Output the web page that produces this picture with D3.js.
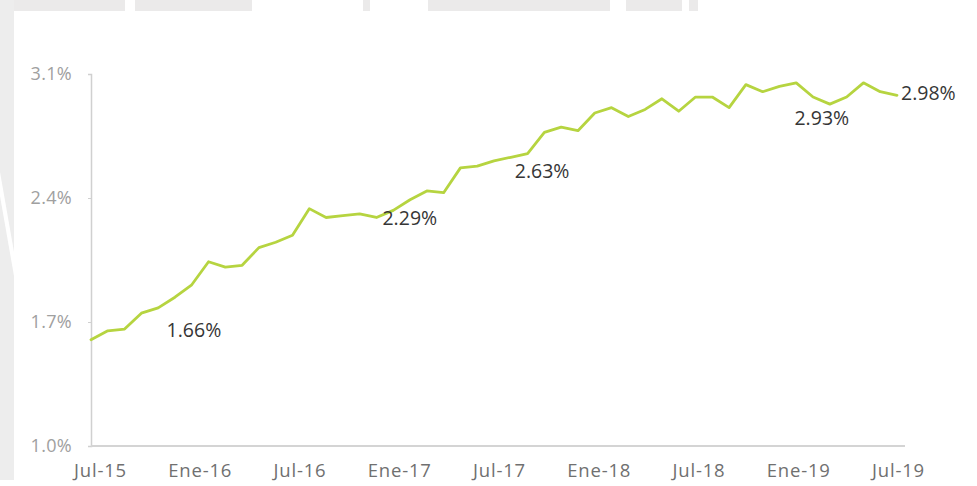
<!DOCTYPE html>
<html>
<head>
<meta charset="utf-8">
<script src="https://cdn.jsdelivr.net/npm/d3@7"></script>
<style>
  html, body { margin: 0; padding: 0; background: #ffffff; }
  svg { display: block; }
</style>
</head>
<body>
<svg id="chart" width="977" height="486"></svg>
<script>
// Monthly series, Jul-15 .. Jul-19 (percent)
const months = [
  "Jul-15","Ago-15","Sep-15","Oct-15","Nov-15","Dic-15",
  "Ene-16","Feb-16","Mar-16","Abr-16","May-16","Jun-16",
  "Jul-16","Ago-16","Sep-16","Oct-16","Nov-16","Dic-16",
  "Ene-17","Feb-17","Mar-17","Abr-17","May-17","Jun-17",
  "Jul-17","Ago-17","Sep-17","Oct-17","Nov-17","Dic-17",
  "Ene-18","Feb-18","Mar-18","Abr-18","May-18","Jun-18",
  "Jul-18","Ago-18","Sep-18","Oct-18","Nov-18","Dic-18",
  "Ene-19","Feb-19","Mar-19","Abr-19","May-19","Jun-19",
  "Jul-19"
];
const values = [
  1.60, 1.65, 1.66, 1.75, 1.78, 1.84,
  1.91, 2.04, 2.01, 2.02, 2.12, 2.15,
  2.19, 2.34, 2.29, 2.30, 2.31, 2.29,
  2.33, 2.39, 2.44, 2.43, 2.57, 2.58,
  2.61, 2.63, 2.65, 2.77, 2.80, 2.78,
  2.88, 2.91, 2.86, 2.90, 2.96, 2.89,
  2.97, 2.97, 2.91, 3.04, 3.00, 3.03,
  3.05, 2.97, 2.93, 2.97, 3.05, 3.00,
  2.98
];
const tickLabels = ["Jul-15","Ene-16","Jul-16","Ene-17","Jul-17","Ene-18","Jul-18","Ene-19","Jul-19"];
const yTicks = [1.0, 1.7, 2.4, 3.1];
// Months whose value is written next to the line
const labelledMonths = ["Sep-15","Dic-16","Ago-17","Mar-19","Jul-19"];

const svg = d3.select("#chart");

// Backdrop: light grey frame with white cut-outs, white panel on top
const bg = svg.append("g");
[[0,125],[135,252],[363,370],[428,610],[626,682],[689,698]].forEach(([a,b]) => {
  bg.append("rect").attr("x", a).attr("y", 0).attr("width", b - a).attr("height", 11).attr("fill", "#ebeaea");
});
bg.append("rect").attr("x", 0).attr("y", 0).attr("width", 14).attr("height", 480).attr("fill", "#ededed");
bg.append("polygon")
  .attr("points", "0,172 14,252 14,276 0,196")
  .attr("fill", "#ffffff");
bg.append("rect").attr("x", 14).attr("y", 11).attr("width", 963).attr("height", 475).attr("fill", "#ffffff");

// Scales
const x = d3.scalePoint().domain(months).range([91, 897]);
const y = d3.scaleLinear().domain([1.0, 3.1]).range([446, 74]);
const xLabel = d3.scalePoint().domain(tickLabels).range([100, 898]);

const font = "'Open Sans', 'Noto Sans', sans-serif";

// Y axis
const yAxis = svg.append("g")
  .attr("transform", "translate(91,0)")
  .call(d3.axisLeft(y).tickValues(yTicks).tickSize(3).tickPadding(16)
        .tickFormat(d => d3.format(".1f")(d) + "%"));
yAxis.select(".domain").attr("stroke", "#d0d0d0").attr("stroke-width", 1.5);
yAxis.selectAll(".tick line").attr("stroke", "#d0d0d0");
yAxis.selectAll(".tick text")
  .attr("fill", "#a0a0a0")
  .style("font-family", font)
  .style("font-size", "18px")
  .style("letter-spacing", "0.3px");

// X axis baseline
svg.append("line")
  .attr("x1", 91).attr("x2", 905)
  .attr("y1", y(1.0)).attr("y2", y(1.0))
  .attr("stroke", "#d4d4d4").attr("stroke-width", 2);

// X tick labels
const xAxis = svg.append("g")
  .attr("transform", `translate(0,${y(1.0)})`)
  .call(d3.axisBottom(xLabel).tickSize(0).tickPadding(18));
xAxis.select(".domain").remove();
xAxis.selectAll(".tick text")
  .attr("fill", "#707070")
  .style("font-family", font)
  .style("font-size", "18.5px")
  .style("letter-spacing", "0.8px");

// Series line
const line = d3.line()
  .x((d, i) => x(months[i]))
  .y(d => y(d));
svg.append("path")
  .datum(values)
  .attr("d", line)
  .attr("fill", "none")
  .attr("stroke", "#b6d440")
  .attr("stroke-width", 2.8)
  .attr("stroke-linejoin", "round")
  .attr("stroke-linecap", "round");

// Value labels
const labelOffsets = {
  "Sep-15": { dx: 42, dy: 1, anchor: "start" },
  "Dic-16": { dx: 6, dy: 0, anchor: "start" },
  "Ago-17": { dx: 4, dy: 14, anchor: "start" },
  "Mar-19": { dx: -8, dy: 14, anchor: "middle" },
  "Jul-19": { dx: 4, dy: -2, anchor: "start" }
};
svg.append("g").selectAll("text")
  .data(labelledMonths)
  .join("text")
  .attr("x", m => x(m) + labelOffsets[m].dx)
  .attr("y", m => y(values[months.indexOf(m)]) + labelOffsets[m].dy)
  .attr("dy", "0.36em")
  .attr("text-anchor", m => labelOffsets[m].anchor)
  .attr("fill", "#363636")
  .style("font-family", font)
  .style("font-size", "19.5px")
  .text(m => values[months.indexOf(m)].toFixed(2) + "%");
</script>
</body>
</html>
